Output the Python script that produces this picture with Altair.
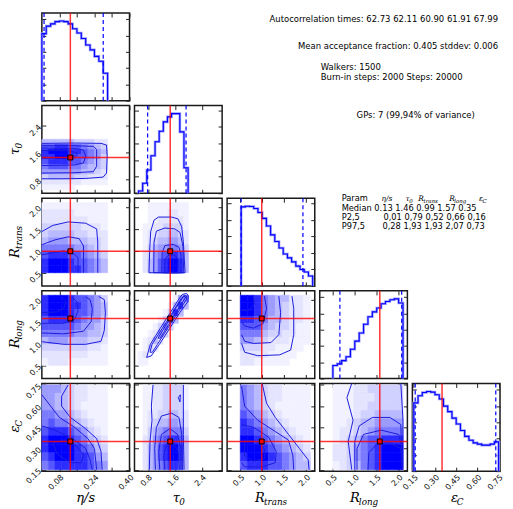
import altair as alt
import pandas as pd

# ---------------- data ----------------
PARAMS = ["eta", "tau", "rtr", "rlo", "eps"]
DOMAINS = {"eta": [0.0, 0.40], "tau": [0.4, 3.0], "rtr": [0.2, 2.2], "rlo": [0.2, 2.2], "eps": [0.14, 0.76]}
TICKS = {"eta": [0.08, 0.16, 0.24, 0.32, 0.40], "tau": [0.8, 1.6, 2.4],
         "rtr": [0.5, 1.0, 1.5, 2.0], "rlo": [0.5, 1.0, 1.5, 2.0],
         "eps": [0.15, 0.30, 0.45, 0.60, 0.75]}
FMT = {"eta": ".2f", "tau": ".1f", "rtr": ".1f", "rlo": ".1f", "eps": ".2f"}

MEDIAN = [0.13, 1.46, 0.99, 1.57, 0.35]
P2_5 = [0.01, 0.79, 0.52, 0.66, 0.16]
P97_5 = [0.28, 1.93, 1.93, 2.07, 0.73]

# histograms: (first bin edge, bin width, counts)
HIST_ETA = (0.0, 0.02, [206, 229, 236, 243, 245, 243, 236, 221, 208, 191, 171, 156, 136, 121, 84])
HIST_TAU = (0.52, 0.1225, [7, 30, 70, 113, 155, 187, 215, 230, 240, 240, 185, 77])
HIST_RTR = (0.52, 0.096, [240, 242, 241, 235, 223, 205, 182, 155, 135, 115, 97, 85, 73, 60, 50, 42, 30])
HIST_RLO = (0.5, 0.1, [40, 45, 55, 67, 90, 115, 140, 167, 190, 205, 217, 230, 237, 242, 245, 232])
HIST_EPS = (0.15, 0.03, [210, 232, 242, 245, 243, 235, 222, 200, 183, 163, 145, 125, 107, 95, 87, 83, 80, 80, 83, 90])
HIST = {"eta": HIST_ETA, "tau": HIST_TAU, "rtr": HIST_RTR, "rlo": HIST_RLO, "eps": HIST_EPS}

# 2D density grids (10x10, top row first, 0 = empty, 9 = densest)
HEAT_RANGE = {"eta": [0.0, 0.3], "tau": [0.5, 2.0], "rtr": [0.5, 2.1], "rlo": [0.5, 2.1], "eps": [0.15, 0.75]}
HEAT_10 = ["4444433322", "7788776543", "8999887654", "8899877653", "7888776543",
           "6777665443", "5555554432", "3444433222", "2222221111", "1111100000"]
HEAT_20 = ["1111111111", "2222211111", "2222222111", "3333332221", "3444433222",
           "4555444332", "6666655432", "7888776543", "8999877654", "8999887654"]
HEAT_21 = ["0011111111", "0011112211", "0011222221", "0112233331", "0122334432",
           "0123445542", "0134556653", "0235678874", "0245789984", "0245789984"]
HEAT_30 = ["8999877653", "8999887654", "8999877654", "7888876553", "7777765543",
           "6666655443", "4555444332", "3333333221", "2222222111", "1222111111"]
HEAT_31 = ["0000000156", "0000001484", "0000013840", "0000137400", "0001363000",
           "0012530000", "0124200000", "0132000000", "1210000000", "1100000000"]
HEAT_32 = ["9986544221", "9986543221", "9986543221", "8876443221", "7775433211",
           "6664332211", "5543222111", "3332211110", "2222111100", "2211111000"]
HEAT_40 = ["5554322111", "5544322111", "5544321111", "6655432111", "6766543211",
           "7888765321", "8999876432", "8999987643", "7899988754", "6788888765"]
HEAT_41 = ["0112233331", "0112233331", "0112233331", "0122334432", "0123445542",
           "0134566663", "0235678874", "0245789984", "0245789984", "0245678874"]
HEAT_42 = ["6543221111", "6543221111", "6543211111", "7654321111", "8765432111",
           "8876543211", "9987654321", "9998765432", "8999876543", "7888776544"]
HEAT_43 = ["1112233333", "1112223333", "1112233333", "1112334444", "1123445555",
           "1223456666", "1234677888", "2235678999", "2235678999", "1234678999"]
HEAT = {(1, 0): HEAT_10, (2, 0): HEAT_20, (2, 1): HEAT_21, (3, 0): HEAT_30, (3, 1): HEAT_31,
        (3, 2): HEAT_32, (4, 0): HEAT_40, (4, 1): HEAT_41, (4, 2): HEAT_42, (4, 3): HEAT_43}

# contour lines (data coordinates)
CONT_10 = [[(0, 1.88), (0.15, 1.89), (0.27, 1.88), (0.295, 1.83), (0.298, 1.5), (0.295, 1.0), (0.28, 0.88), (0.2, 0.84), (0.1, 0.83), (0, 0.83)],
           [(0, 1.81), (0.15, 1.81), (0.235, 1.79), (0.25, 1.7), (0.25, 1.2), (0.235, 1.04), (0.15, 1.01), (0, 1.0)],
           [(0, 1.74), (0.15, 1.73), (0.19, 1.68), (0.2, 1.5), (0.19, 1.3), (0.15, 1.24), (0, 1.22)],
           [(0, 1.67), (0.12, 1.66), (0.16, 1.6), (0.16, 1.52), (0.12, 1.45), (0, 1.44)]]
CONT_20 = [[(0, 1.44), (0.05, 1.58), (0.12, 1.66), (0.2, 1.63), (0.25, 1.5), (0.255, 1.2), (0.255, 0.5)],
           [(0, 1.14), (0.06, 1.25), (0.12, 1.32), (0.17, 1.28), (0.19, 1.11), (0.19, 0.5)],
           [(0, 0.91), (0.1, 1.0), (0.15, 0.92), (0.165, 0.84), (0.165, 0.5)]]
CONT_21 = [[(0.83, 0.5), (0.85, 1.0), (0.88, 1.44), (0.98, 1.7), (1.11, 1.77), (1.5, 1.77), (1.69, 1.73), (1.8, 1.55), (1.85, 1.2), (1.9, 0.5), (0.83, 0.5)],
           [(0.97, 0.5), (0.98, 1.2), (1.05, 1.45), (1.3, 1.52), (1.6, 1.5), (1.75, 1.42), (1.84, 1.1), (1.86, 0.5), (0.97, 0.5)],
           [(1.21, 0.5), (1.22, 0.95), (1.3, 1.12), (1.55, 1.15), (1.72, 1.08), (1.78, 0.9), (1.78, 0.5), (1.21, 0.5)],
           [(1.3, 0.5), (1.3, 0.8), (1.4, 0.9), (1.6, 0.9), (1.69, 0.8), (1.69, 0.5), (1.3, 0.5)]]
CONT_30 = [[(0, 1.04), (0.1, 0.98), (0.2, 0.98), (0.27, 1.05), (0.285, 1.3), (0.29, 1.7), (0.285, 2.0), (0.26, 2.07)],
           [(0, 1.24), (0.1, 1.22), (0.19, 1.28), (0.225, 1.5), (0.23, 1.8), (0.22, 2.0), (0.2, 2.06)],
           [(0, 1.46), (0.1, 1.46), (0.15, 1.55), (0.165, 1.75), (0.16, 1.95), (0.14, 2.05)],
           [(0, 1.7), (0.07, 1.72), (0.1, 1.8), (0.11, 1.95), (0.09, 2.06)]]
CONT_31 = [[(0.76, 0.68), (0.87, 0.98), (1.16, 1.34), (1.46, 1.70), (1.72, 2.02), (1.82, 2.12), (1.95, 2.14), (2.0, 2.08), (1.98, 1.95), (1.74, 1.70), (1.44, 1.34), (1.14, 0.98), (0.9, 0.72), (0.76, 0.68)],
           [(0.86, 0.8), (0.92, 0.98), (1.22, 1.34), (1.52, 1.7), (1.78, 2.02), (1.88, 2.1), (1.95, 2.08), (1.94, 2.0), (1.68, 1.7), (1.38, 1.34), (1.08, 0.98), (0.93, 0.8), (0.86, 0.8)],
           [(1.1, 1.12), (1.35, 1.44), (1.62, 1.8), (1.86, 2.08), (1.92, 2.06), (1.68, 1.76), (1.42, 1.44), (1.16, 1.12), (1.1, 1.12)]]
CONT_32 = [[(1.68, 2.08), (1.72, 1.8), (1.72, 1.2), (1.65, 0.85), (1.4, 0.74), (0.9, 0.72), (0.6, 0.8), (0.53, 1.0)],
           [(1.38, 2.08), (1.42, 1.7), (1.38, 1.2), (1.2, 1.02), (0.8, 1.0), (0.6, 1.05), (0.53, 1.2)],
           [(1.05, 2.08), (1.1, 1.8), (1.02, 1.45), (0.8, 1.35), (0.6, 1.4), (0.53, 1.5)],
           [(0.8, 2.08), (0.82, 1.9), (0.7, 1.75), (0.53, 1.75)]]
CONT_40 = [[(0.12, 0.75), (0.09, 0.67), (0.09, 0.6), (0.13, 0.52), (0.2, 0.44), (0.25, 0.37), (0.27, 0.28), (0.275, 0.15)],
           [(0, 0.68), (0.04, 0.6), (0.08, 0.52), (0.15, 0.45), (0.21, 0.37), (0.24, 0.3), (0.25, 0.15)],
           [(0, 0.46), (0.06, 0.43), (0.14, 0.37), (0.2, 0.3), (0.22, 0.22), (0.23, 0.15)],
           [(0.05, 0.34), (0.1, 0.36), (0.15, 0.33), (0.19, 0.26), (0.18, 0.2), (0.13, 0.2), (0.07, 0.26), (0.05, 0.34)]]
CONT_41 = [[(0.95, 0.75), (0.9, 0.6), (0.92, 0.5), (0.86, 0.35), (0.84, 0.15)],
           [(1.85, 0.75), (1.85, 0.4), (1.87, 0.15)],
           [(1.02, 0.15), (1.0, 0.3), (1.05, 0.45), (1.2, 0.53), (1.5, 0.55), (1.72, 0.52), (1.8, 0.4), (1.82, 0.15)],
           [(1.15, 0.15), (1.12, 0.28), (1.2, 0.4), (1.45, 0.44), (1.68, 0.4), (1.77, 0.3), (1.78, 0.15)],
           [(1.3, 0.15), (1.27, 0.25), (1.35, 0.33), (1.55, 0.34), (1.7, 0.28), (1.73, 0.15)],
           [(1.7, 0.66), (1.76, 0.68), (1.75, 0.63), (1.7, 0.66)]]
CONT_42 = [[(1.0, 0.76), (1.1, 0.62), (1.3, 0.52), (1.6, 0.4), (1.85, 0.3), (2.05, 0.22), (2.07, 0.15)],
           [(0.53, 0.74), (0.6, 0.6), (0.9, 0.5), (1.3, 0.42), (1.6, 0.36), (1.7, 0.25), (1.72, 0.15)],
           [(0.53, 0.47), (0.8, 0.45), (1.15, 0.38), (1.32, 0.28), (1.3, 0.2), (1.0, 0.17), (0.6, 0.17), (0.53, 0.2)],
           [(0.6, 0.36), (0.85, 0.35), (1.05, 0.3), (1.05, 0.23), (0.8, 0.21), (0.6, 0.25), (0.6, 0.36)]]
CONT_43 = [[(0.93, 0.76), (0.82, 0.66), (0.96, 0.5), (0.85, 0.35), (0.93, 0.15)],
           [(2.05, 0.76), (2.1, 0.5), (2.1, 0.15)],
           [(1.0, 0.15), (1.0, 0.35), (1.1, 0.46), (1.4, 0.52), (1.8, 0.52), (2.05, 0.47), (2.08, 0.15)],
           [(1.05, 0.15), (1.05, 0.3), (1.2, 0.4), (1.6, 0.43), (2.0, 0.4), (2.08, 0.3)],
           [(1.3, 0.15), (1.32, 0.27), (1.5, 0.33), (1.8, 0.34), (2.05, 0.3), (2.08, 0.2)]]
CONT = {(1, 0): CONT_10, (2, 0): CONT_20, (2, 1): CONT_21, (3, 0): CONT_30, (3, 1): CONT_31,
        (3, 2): CONT_32, (4, 0): CONT_40, (4, 1): CONT_41, (4, 2): CONT_42, (4, 3): CONT_43}

# annotation texts
TXT_AUTOCORR = "Autocorrelation times: 62.73 62.11 60.90 61.91 67.99"
TXT_ACCEPT = "Mean acceptance fraction: 0.405 stddev: 0.006"
TXT_WALKERS = "Walkers: 1500"
TXT_STEPS = "Burn-in steps: 2000 Steps: 20000"
TXT_GPS = "GPs:  7 (99,94% of variance)"
TBL_MEDIAN = "Median 0.13 1.46 0.99 1.57 0.35"
TBL_P2 = ("P2,5", "0,01 0,79 0,52 0,66 0,16")
TBL_P97 = ("P97,5", "0,28 1,93 1,93 2,07 0,73")

# titles: (main, subscript, main-glyph width factor)
TITLES = {"eta": ("η/s", None, 0), "tau": ("τ", "0", 0.5), "rtr": ("R", "trans", 0.68),
          "rlo": ("R", "long", 0.68), "eps": ("ε", "C", 0.45)}

# ---------------- chart construction ----------------
W = H = 88
ONE = pd.DataFrame({"k": [0]})
CSCALE = alt.Scale(type="pow", exponent=1.7, domain=[0, 9], range=["#f7f7ff", "#0000ff"], interpolate="rgb")
SERIF = "DejaVu Serif"
SANS = "DejaVu Sans"


def sc(p):
    return alt.Scale(domain=DOMAINS[p], nice=False, zero=False)


def ax(p, orient, labels, count=None):
    kw = dict(orient=orient, title=None, offset=-4, tickSize=4, domain=False, grid=False,
              labels=labels, tickColor="#222222", tickWidth=1)
    if p is not None:
        kw["values"] = TICKS[p]
    else:
        kw["tickCount"] = count or 6
    if labels:
        kw.update(format=FMT[p], labelAngle=315, labelAlign="right",
                  labelBaseline="top" if orient == "bottom" else "middle",
                  labelPadding=2, labelFontSize=8, labelFont=SANS, labelColor="#111111")
    return alt.Axis(**kw)


def txt(s, x, y, size=8.5, align="left", font=SANS, style="normal", angle=0):
    return alt.Chart(ONE).mark_text(text=s, align=align, baseline="middle", fontSize=size,
                                    font=font, fontStyle=style, angle=angle,
                                    color="black").encode(x=alt.value(x), y=alt.value(y))


def math_label(p, cx, cy, size=13, rotate=False):
    main, sub, f = TITLES[p]
    if sub is None:
        return [txt(main, cx, cy, size=size, align="center", font=SERIF, style="italic",
                    angle=270 if rotate else 0)]
    ssize = size * 0.68
    wmain = f * size
    total = wmain + len(sub) * 0.52 * ssize
    if not rotate:
        x0 = cx - total / 2
        return [txt(main, x0, cy, size=size, font=SERIF, style="italic"),
                txt(sub, x0 + wmain, cy + size * 0.3, size=ssize, font=SERIF, style="italic")]
    y0 = cy + total / 2
    return [txt(main, cx, y0, size=size, font=SERIF, style="italic", angle=270),
            txt(sub, cx + size * 0.3, y0 - wmain, size=ssize, font=SERIF, style="italic", angle=270)]


def hist_panel(i):
    p = PARAMS[i]
    start, width, counts = HIST[p]
    n = len(counts)
    xs = [start] + [start + k * width for k in range(n)] + [start + n * width]
    hs = [0] + list(counts) + [0]
    df = pd.DataFrame({"x": xs, "h": hs, "i": list(range(len(xs)))})
    ysc = alt.Scale(domain=[0, max(counts) * 1.1], nice=False, zero=True)
    last = i == 4
    base = alt.Chart(df)
    light = base.mark_line(interpolate="step-after", color="#9d9dff", strokeWidth=2.6).encode(
        x=alt.X("x:Q", scale=sc(p), axis=ax(p, "bottom", last)),
        y=alt.Y("h:Q", scale=ysc, axis=ax(None, "left", False)),
        order="i:Q")
    dark = base.mark_line(interpolate="step-after", color="#0000ff", strokeWidth=1.1).encode(
        x=alt.X("x:Q", scale=sc(p), axis=ax(p, "top", False)),
        y=alt.Y("h:Q", scale=ysc, axis=ax(None, "right", False)),
        order="i:Q")
    q = alt.Chart(pd.DataFrame({"m": [P2_5[i], P97_5[i]]})).mark_rule(
        color="#0000ff", strokeWidth=1.2, strokeDash=[4, 3]).encode(
        x=alt.X("m:Q", scale=sc(p), axis=None))
    med = alt.Chart(pd.DataFrame({"m": [MEDIAN[i]]})).mark_rule(
        color="#ff0000", strokeWidth=1.5, opacity=0.8).encode(
        x=alt.X("m:Q", scale=sc(p), axis=None))
    layers = [light, dark, q, med]
    if last:
        layers += math_label(p, W / 2, H + 27)
    return alt.layer(*layers).resolve_axis(x="independent", y="independent").properties(width=W, height=H)


def heat_df(grid, xp, yp):
    x0, x1 = HEAT_RANGE[xp]
    y0, y1 = HEAT_RANGE[yp]
    nr, nc = len(grid), len(grid[0])
    dx, dy = (x1 - x0) / nc, (y1 - y0) / nr
    rows = []
    for r, s in enumerate(grid):
        for c, ch in enumerate(s):
            v = int(ch)
            if v > 0:
                rows.append({"x": x0 + c * dx, "x2": x0 + (c + 1) * dx,
                             "y": y1 - (r + 1) * dy, "y2": y1 - r * dy, "v": v})
    return pd.DataFrame(rows)


def cont_df(lines):
    rows = []
    for cid, line in enumerate(lines):
        for k, (x, y) in enumerate(line):
            rows.append({"cid": cid, "i": k, "x": x, "y": y})
    return pd.DataFrame(rows)


def pair_panel(r, c):
    xp, yp = PARAMS[c], PARAMS[r]
    heat = alt.Chart(heat_df(HEAT[(r, c)], xp, yp)).mark_rect(strokeWidth=0.6).encode(
        x=alt.X("x:Q", scale=sc(xp), axis=ax(xp, "bottom", r == 4)),
        x2="x2:Q",
        y=alt.Y("y:Q", scale=sc(yp), axis=ax(yp, "left", c == 0)),
        y2="y2:Q",
        color=alt.Color("v:Q", scale=CSCALE, legend=None),
        stroke=alt.Stroke("v:Q", scale=CSCALE, legend=None))
    cont = alt.Chart(cont_df(CONT[(r, c)])).mark_line(color="#1c1cdc", strokeWidth=1).encode(
        x=alt.X("x:Q", scale=sc(xp), axis=None),
        y=alt.Y("y:Q", scale=sc(yp), axis=None),
        detail="cid:N", order="i:Q")
    vr = alt.Chart(pd.DataFrame({"m": [MEDIAN[c]]})).mark_rule(
        color="#ff0000", strokeWidth=1.5, opacity=0.8).encode(x=alt.X("m:Q", scale=sc(xp), axis=None))
    hr = alt.Chart(pd.DataFrame({"m": [MEDIAN[r]]})).mark_rule(
        color="#ff0000", strokeWidth=1.5, opacity=0.8).encode(y=alt.Y("m:Q", scale=sc(yp), axis=None))
    sq = alt.Chart(pd.DataFrame({"x": [MEDIAN[c]], "y": [MEDIAN[r]]})).mark_square(
        size=24, fill="#ff0000", stroke="black", strokeWidth=1, filled=True, opacity=1).encode(
        x=alt.X("x:Q", scale=sc(xp), axis=ax(xp, "top", False)),
        y=alt.Y("y:Q", scale=sc(yp), axis=ax(yp, "right", False)))
    layers = [heat, cont, vr, hr, sq]
    if r == 4:
        layers += math_label(xp, W / 2, H + 27)
    if c == 0:
        layers += math_label(yp, -27, H / 2, rotate=True)
    return alt.layer(*layers).resolve_axis(x="independent", y="independent").properties(width=W, height=H)


def empty_panel(texts=None):
    layers = texts or [txt("", 0, 0)]
    return alt.layer(*layers).properties(width=W, height=H, view=alt.ViewBackground(stroke=None))


annot_04 = [txt(TXT_AUTOCORR, 86, 6, align="right"),
            txt(TXT_ACCEPT, 86, 33, align="right"),
            txt(TXT_WALKERS, -92, 54),
            txt(TXT_STEPS, -92, 64)]
annot_14 = [txt(TXT_GPS, -56, 9)]


def sub_small(main, sub, x, y, f):
    return [txt(main, x, y, size=7.5, font=SERIF, style="italic"),
            txt(sub, x + f * 7.5, y + 2, size=5.5, font=SERIF, style="italic")]


TX = 7
TY = 2
annot_24 = [txt("Param", -78 + TX, -1 + TY, size=8.3),
            txt("η/s", -38 + TX, -1 + TY, size=7.5, font=SERIF, style="italic")]
annot_24 += sub_small("τ", "0", -14 + TX, -1 + TY, 0.5)
annot_24 += sub_small("R", "trans", -1 + TX, -1 + TY, 0.68)
annot_24 += sub_small("R", "long", 30 + TX, -1 + TY, 0.68)
annot_24 += sub_small("ε", "C", 60 + TX, -1 + TY, 0.45)
annot_24 += [txt(TBL_MEDIAN, -78 + TX, 9 + TY, size=8.3),
             txt(TBL_P2[0], -78 + TX, 18 + TY, size=8.3), txt(TBL_P2[1], -36 + TX, 18 + TY, size=8.3),
             txt(TBL_P97[0], -78 + TX, 27 + TY, size=8.3), txt(TBL_P97[1], -37 + TX, 27 + TY, size=8.3)]

cells = []
for r in range(5):
    for c in range(5):
        if r == c:
            cells.append(hist_panel(r))
        elif r > c:
            cells.append(pair_panel(r, c))
        else:
            if (r, c) == (0, 4):
                cells.append(empty_panel(annot_04))
            elif (r, c) == (1, 4):
                cells.append(empty_panel(annot_14))
            elif (r, c) == (2, 4):
                cells.append(empty_panel(annot_24))
            else:
                cells.append(empty_panel())

chart = alt.concat(*cells, columns=5, spacing=5, bounds="flush").properties(
    padding={"left": 0, "top": 0, "right": 0, "bottom": 0}
).configure_view(stroke="#1a1a1a", strokeWidth=1.5)

chart.save("out.html", embed_options={"renderer": "svg", "actions": False})
